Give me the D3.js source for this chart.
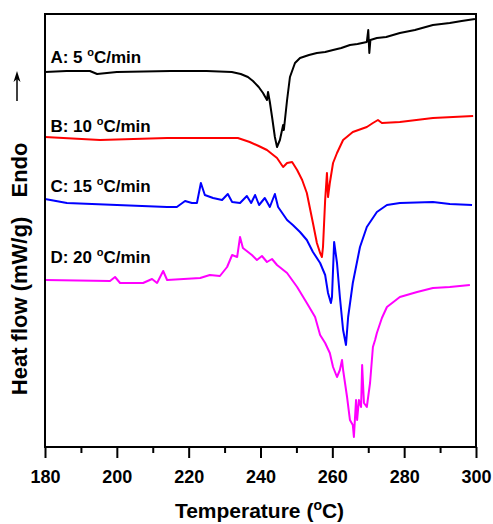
<!DOCTYPE html>
<html><head><meta charset="utf-8">
<script src="https://cdn.jsdelivr.net/npm/d3@7"></script>
<style>body{margin:0;background:#fff}svg{display:block}text{font-family:"Liberation Sans",Arial,sans-serif;font-weight:bold}</style>
</head><body>
<svg id="c" width="493" height="524"></svg>
<script>
// Temperature (°C), heat flow (arbitrary offset units)
const curveA = [[180,37.5],[186,37.6],[192.5,37.6],[194.5,37.3],[200,37.5],[215,37.6],[225,37.6],[232,37.5],[234.5,37.3],[236.5,37.0],[237.9,36.6],[239.5,36.0],[240.7,35.4],[241.8,34.7],[242.1,35.5],[242.6,34.5],[243.3,32.8],[244.0,31.0],[244.6,30.0],[245.4,30.7],[246.3,32.2],[246.5,31.7],[247.4,34.7],[248.2,37.0],[249.6,38.4],[251.0,38.9],[253.5,39.2],[255.7,39.4],[258,39.5],[260.2,39.7],[262.5,39.9],[264.9,40.2],[267,40.3],[269.6,40.5],[270.0,41.7],[270.3,39.4],[270.6,40.7],[272.4,40.9],[275,41.0],[278.8,41.4],[283,41.7],[288.0,42.2],[292.7,42.4],[296,42.6],[299.7,42.8]];
const curveB = [[180,31.0],[195.3,30.7],[214.0,30.9],[233.7,30.9],[237,30.5],[239.5,30.1],[241.8,29.7],[244.6,28.9],[246.3,28.0],[247.4,28.4],[248.8,28.5],[250.2,27.7],[251.6,26.7],[252.9,25.4],[254.6,22.4],[255.7,20.4],[256.6,19.4],[257.1,19.0],[257.4,20.0],[258.0,24.7],[258.5,27.4],[258.8,25.0],[259.3,26.4],[260.2,28.4],[261.3,29.4],[263.0,30.7],[265.7,31.5],[269.6,32.0],[271.3,32.4],[272.7,32.7],[273.8,32.4],[278.8,32.5],[288.0,32.9],[299.2,33.1]];
const curveC = [[180,24.8],[186.1,24.4],[214.0,24.0],[216.7,24.0],[219.0,24.6],[220.9,24.4],[222.3,24.4],[223.4,26.4],[224.5,25.2],[226.8,24.9],[229.3,24.7],[230.9,25.3],[232.1,24.5],[234.3,24.4],[236.2,25.1],[237.4,24.4],[238.5,25.2],[239.6,24.2],[241.2,24.9],[242.6,24.0],[244.0,25.3],[244.9,24.0],[247.4,22.7],[249.0,22.2],[251.0,21.5],[252.9,20.7],[254.6,19.5],[256.6,18.4],[258.0,17.2],[258.8,15.4],[259.6,14.4],[259.9,15.0],[260.5,20.5],[261.3,18.4],[262.1,15.0],[263.0,11.7],[263.8,10.2],[264.4,13.0],[265.7,16.4],[267.7,20.0],[269.6,22.0],[272.4,23.5],[275.2,24.2],[278.8,24.4],[288.0,24.5],[292.7,24.3],[298.9,24.2]];
const curveD = [[180,16.7],[198.1,16.6],[199.5,17.0],[200.9,16.4],[207.3,16.4],[209.8,16.8],[211.2,16.4],[212.9,17.6],[214.0,16.7],[223.2,16.9],[225.9,17.2],[228.7,17.1],[230.7,18.0],[232.1,19.2],[233.5,19.0],[234.3,21.0],[235.1,19.9],[237.6,19.2],[239.0,18.7],[240.4,19.1],[241.8,18.5],[243.2,18.8],[244.6,18.2],[247.4,17.4],[250.2,16.0],[252.9,14.4],[255.2,13.0],[256.6,11.2],[258.0,10.4],[259.3,9.4],[260.2,8.0],[261.3,7.0],[262.1,7.7],[262.7,8.7],[263.0,7.7],[264.1,5.0],[264.9,2.7],[265.7,2.2],[266.0,1.0],[266.6,4.7],[266.9,2.7],[267.4,4.7],[268.0,4.0],[268.3,8.2],[268.8,4.4],[269.6,4.0],[270.5,6.4],[271.3,10.0],[271.9,10.7],[272.4,11.4],[273.8,12.9],[275.2,14.0],[278.8,15.0],[283.6,15.5],[288.0,15.9],[292.7,16.0],[298.3,16.2]];
const seriesNames = ["A: 5 ", "B: 10 ", "C: 15 ", "D: 20 "];
const seriesColors = ["#000000", "#ff0000", "#0000ff", "#ff00ff"];
const labelLevels = [38.4, 31.5, 25.5, 18.4];
const xMajorTicks = [180, 200, 220, 240, 260, 280, 300];
const xMinorTicks = [190, 210, 230, 250, 270, 290];

const svg = d3.select("#c");
const M = {l:45, r:476, t:14, b:447};
const x = d3.scaleLinear().domain([180,300]).range([M.l, M.r]);
const y = d3.scaleLinear().domain([0,43.3]).range([M.b, M.t]);

const line = d3.line().x(d=>x(d[0])).y(d=>y(d[1]));
const curves = [curveA, curveB, curveC, curveD];
curves.forEach((c,i)=>{
  svg.append("path").attr("d", line(c)).attr("fill","none")
    .attr("stroke", seriesColors[i]).attr("stroke-width", 2).attr("stroke-linejoin","round");
});

// labels
curves.forEach((c,i)=>{
  const t = svg.append("text").attr("x", x(181.5)).attr("y", y(labelLevels[i]))
    .attr("font-size", 17).attr("fill","#000");
  t.append("tspan").text(seriesNames[i]);
  t.append("tspan").text("o").attr("font-size", 11).attr("dy", -7);
  t.append("tspan").text("C/min").attr("dy", 7);
});

// frame
svg.append("rect").attr("x", M.l).attr("y", M.t).attr("width", M.r-M.l).attr("height", M.b-M.t)
  .attr("fill","none").attr("stroke","#000").attr("stroke-width",2);

// x axis
const ax = svg.append("g").attr("transform", `translate(0,${M.b})`)
  .call(d3.axisBottom(x).tickValues(xMajorTicks).tickSize(11).tickPadding(12).tickFormat(d3.format("d")));
ax.select(".domain").remove();
ax.selectAll(".tick line").attr("stroke-width",2);
ax.selectAll("text").attr("font-size",18).attr("font-family","Liberation Sans, Arial, sans-serif").attr("font-weight","bold").attr("fill","#000");
const axm = svg.append("g").attr("transform", `translate(0,${M.b})`)
  .call(d3.axisBottom(x).tickValues(xMinorTicks).tickSize(6).tickFormat(""));
axm.select(".domain").remove();
axm.selectAll(".tick line").attr("stroke-width",2);

// x title
const xt = svg.append("text").attr("x", (M.l+M.r)/2 - 1).attr("y", 518).attr("text-anchor","middle").attr("font-size",21);
xt.append("tspan").text("Temperature (");
xt.append("tspan").text("o").attr("font-size",14).attr("dy",-8);
xt.append("tspan").text("C)").attr("dy",8);

// y title
svg.append("text").attr("transform","translate(27,306) rotate(-90)").attr("text-anchor","middle")
  .attr("font-size",22).text("Heat flow (mW/g)");
svg.append("text").attr("transform","translate(27,170) rotate(-90)").attr("text-anchor","middle")
  .attr("font-size",22).text("Endo");
// arrow
svg.append("line").attr("x1",17).attr("x2",17).attr("y1",101).attr("y2",76).attr("stroke","#000").attr("stroke-width",1.5);
svg.append("path").attr("d","M17,71 L13.5,82 L17,79 L20.5,82 Z").attr("fill","#000");
</script>
</body></html>
